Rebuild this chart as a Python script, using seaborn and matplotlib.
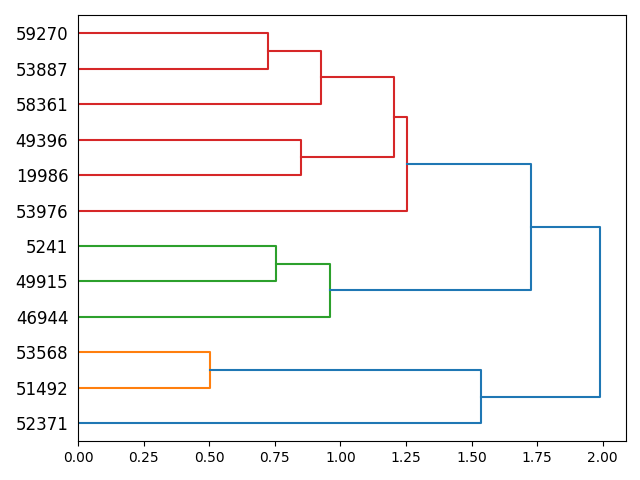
import matplotlib
matplotlib.use("Agg")
import matplotlib.pyplot as plt
import seaborn as sns
import pandas as pd

# Leaf labels, top to bottom as shown
leaf_labels = ["59270", "53887", "58361", "49396", "19986", "53976",
               "5241", "49915", "46944", "53568", "51492", "52371"]

# Merges: node ids 0..11 are leaves (index in leaf_labels), 12+ are merges in order
merge_left = [0, 12, 3, 13, 15, 6, 17, 9, 16, 19, 20]
merge_right = [1, 2, 4, 14, 5, 7, 8, 10, 18, 11, 21]
merge_height = [0.725, 0.925, 0.848, 1.206, 1.252, 0.756, 0.962, 0.501, 1.725, 1.536, 1.989]
merge_group = ["red", "red", "red", "red", "red", "green", "green", "orange", "blue", "blue", "blue"]

palette = {"red": "#d62728", "green": "#2ca02c", "orange": "#ff7f0e", "blue": "#1f77b4"}

n = len(leaf_labels)
pos = {i: 10 * (n - 1 - i) + 5 for i in range(n)}
hgt = {i: 0.0 for i in range(n)}

rows = []
for k, (a, b, h, g) in enumerate(zip(merge_left, merge_right, merge_height, merge_group)):
    node = n + k
    ya, yb = pos[a], pos[b]
    pts = [(hgt[a], ya), (h, ya), (h, yb), (hgt[b], yb)]
    for j, (x, y) in enumerate(pts):
        rows.append({"link": k, "order": j, "x": x, "y": y, "group": g})
    pos[node] = (ya + yb) / 2
    hgt[node] = h

df = pd.DataFrame(rows)

fig, ax = plt.subplots(figsize=(6.4, 4.8), dpi=100)
sns.lineplot(data=df, x="x", y="y", units="link", hue="group", palette=palette,
             estimator=None, sort=False, legend=False, linewidth=1.5, ax=ax)

ax.set_xlim(0, max(merge_height) * 1.05)
ax.set_ylim(0, 10 * n)
ax.set_yticks([pos[i] for i in range(n)])
ax.set_yticklabels(leaf_labels, fontsize=12)
for line in ax.get_yticklines():
    line.set_visible(False)
ax.set_xlabel("")
ax.set_ylabel("")
fig.subplots_adjust(left=0.122, right=0.978, top=0.968, bottom=0.081)
fig.savefig("out.png", dpi=100)
